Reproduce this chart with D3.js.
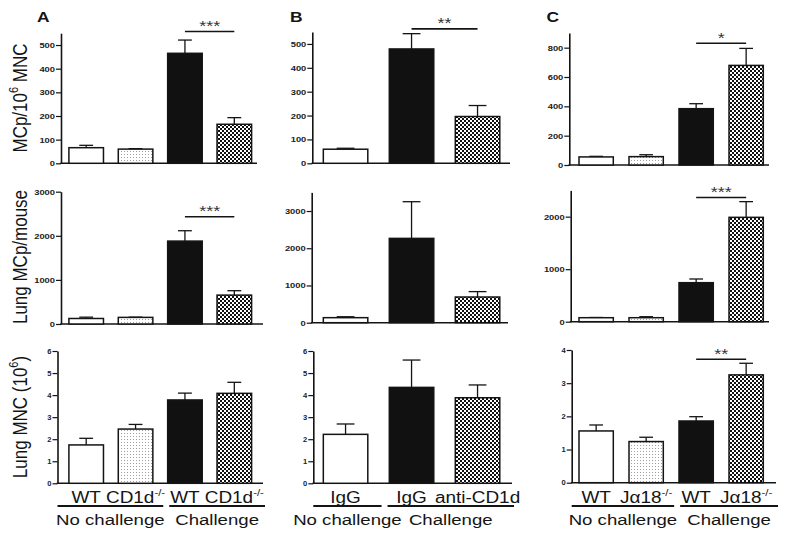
<!DOCTYPE html>
<html><head><meta charset="utf-8">
<script src="https://cdn.jsdelivr.net/npm/d3@7"></script>
<style>body{margin:0;background:#fff}svg{display:block}</style>
</head><body><svg id="c" width="785" height="536"></svg>
<script>
// ---------------- DATA ----------------
const categoriesA = ["WT no challenge", "CD1d-/- no challenge", "WT challenge", "CD1d-/- challenge"];
const categoriesB = ["IgG no challenge", "IgG challenge", "anti-CD1d challenge"];
const categoriesC = ["WT no challenge", "Ja18-/- no challenge", "WT challenge", "Ja18-/- challenge"];

const fillsA = ["open", "dots", "solid", "checker"];
const fillsB = ["open", "solid", "checker"];
const fillsC = ["open", "dots", "solid", "checker"];

const groupOfA = [0, 0, 1, 1];
const groupOfB = [0, 1, 1];
const groupOfC = [0, 0, 1, 1];
const groupLabels = ["No challenge", "Challenge"];

const xLabelsA = [["WT", ""], ["CD1d", "-/-"], ["WT", ""], ["CD1d", "-/-"]];
const xLabelsB = [["IgG", ""], ["IgG", ""], ["anti-CD1d", ""]];
const xLabelsC = [["WT", ""], ["J\u03b118", "-/-"], ["WT", ""], ["J\u03b118", "-/-"]];

// MCp per 10^6 MNC
const meanA1 = [66, 60, 465, 165],   semA1 = [10, 2, 56, 28];
const meanB1 = [59, 479, 196],       semB1 = [4, 64, 46];
const meanC1 = [55, 57, 384, 679],   semC1 = [4, 13, 34, 116];
// Lung MCp per mouse
const meanA2 = [125, 150, 1880, 655], semA2 = [30, 5, 235, 100];
const meanB2 = [135, 2265, 690],      semB2 = [25, 985, 145];
const meanC2 = [76, 76, 743, 1987],   semC2 = [4, 19, 70, 299];
// Lung MNC (10^6)
const meanA3 = [1.74, 2.46, 3.78, 4.08], semA3 = [0.30, 0.21, 0.31, 0.50];
const meanB3 = [2.22, 4.35, 3.88],       semB3 = [0.47, 1.24, 0.58];
const meanC3 = [1.56, 1.24, 1.86, 3.25], semC3 = [0.18, 0.13, 0.13, 0.35];

// axis maxima and tick values
const yMaxA = [550, 3000, 6], yMaxB = [550, 3500, 6], yMaxC = [900, 2500, 4];
const ticksA1 = [0, 100, 200, 300, 400, 500];
const ticksB1 = [0, 100, 200, 300, 400, 500];
const ticksC1 = [0, 200, 400, 600, 800];
const ticksA2 = [0, 1000, 2000, 3000];
const ticksB2 = [0, 1000, 2000, 3000];
const ticksC2 = [0, 1000, 2000];
const ticksA3 = [0, 1, 2, 3, 4, 5, 6];
const ticksB3 = [0, 1, 2, 3, 4, 5, 6];
const ticksC3 = [0, 1, 2, 3, 4];

// significance brackets: [from bar, to bar, level (data units), stars]
const sigA1 = [2, 3, 557, "***"];
const sigA2 = [2, 3, 2433, "***"];
const sigB1 = [1, 2, 563, "**"];
const sigC1 = [2, 3, 830, "*"];
const sigC2 = [2, 3, 2365, "***"];
const sigC3 = [2, 3, 3.72, "**"];

const yTitles = [
  [["MCp/10", 0], ["6", 1], [" MNC", 0]],
  [["Lung MCp/mouse", 0]],
  [["Lung MNC (10", 0], ["6", 1], [")", 0]]
];

// ---------------- LAYOUT / STYLE ----------------
const SX = 1.2; // horizontal text stretch of the source image
const FONT = "'Liberation Sans', Arial, Helvetica, sans-serif";
const INK = "#141414";
const fillMap = {open: "#fff", dots: "url(#dots)", solid: "#111", checker: "url(#checker)"};

const panels = [
  {letter: "A", letterX: 37, cats: categoriesA, fills: fillsA, groups: groupOfA, xl: xLabelsA,
   band: [61.5, 259], pi: 0.3, po: 0.15,
   axisX: [61, 61, 57.5], xEnd: [257, 263, 263],
   yR: [[163.3, 33.2], [324, 191.7], [483.3, 351]], yMax: yMaxA,
   means: [meanA1, meanA2, meanA3], sems: [semA1, semA2, semA3],
   ticks: [ticksA1, ticksA2, ticksA3], sig: [sigA1, sigA2, null], titles: true},
  {letter: "B", letterX: 290, cats: categoriesB, fills: fillsB, groups: groupOfB, xl: xLabelsB,
   band: [312.3, 510.8], pi: 0.326, po: 0.167,
   axisX: [312.3, 311.7, 313.3], xEnd: [510, 508, 512],
   yR: [[163.3, 32], [322.7, 192.4], [483.3, 351]], yMax: yMaxB,
   means: [meanB1, meanB2, meanB3], sems: [semB1, semB2, semB3],
   ticks: [ticksB1, ticksB2, ticksB3], sig: [sigB1, null, null], titles: false},
  {letter: "C", letterX: 546.5, cats: categoriesC, fills: fillsC, groups: groupOfC, xl: xLabelsC,
   band: [570, 772.3], pi: 0.314, po: 0.18,
   axisX: [569.3, 570.7, 571.7], xEnd: [769, 769, 776],
   yR: [[165, 33], [321.7, 190.4], [482.7, 350]], yMax: yMaxC,
   means: [meanC1, meanC2, meanC3], sems: [semC1, semC2, semC3],
   ticks: [ticksC1, ticksC2, ticksC3], sig: [sigC1, sigC2, sigC3], titles: false}
];

const svg = d3.select("#c").style("font-family", FONT);
const defs = svg.append("defs");
const pd = defs.append("pattern").attr("id", "dots").attr("width", 3).attr("height", 3)
  .attr("patternUnits", "userSpaceOnUse");
pd.append("rect").attr("width", 3).attr("height", 3).attr("fill", "#fff");
pd.append("rect").attr("x", 1).attr("y", 1).attr("width", 1).attr("height", 1).attr("fill", "#a0a0a0");
const pc = defs.append("pattern").attr("id", "checker").attr("width", 4).attr("height", 4)
  .attr("patternUnits", "userSpaceOnUse");
pc.append("rect").attr("width", 4).attr("height", 4).attr("fill", "#fff");
pc.append("rect").attr("width", 2).attr("height", 2).attr("fill", "#111");
pc.append("rect").attr("x", 2).attr("y", 2).attr("width", 2).attr("height", 2).attr("fill", "#111");

function stext(parent, x, y, rot) {
  return parent.append("text")
    .attr("transform", `translate(${x},${y}) scale(${SX},1)` + (rot ? " rotate(-90)" : ""))
    .attr("fill", INK);
}
function addParts(t, parts, supSize, supDy) {
  parts.forEach(([s, sup]) => {
    if (!s) return;
    const ts = t.append("tspan").text(s);
    if (sup) ts.attr("font-size", supSize).attr("dy", -supDy);
    else if (t.attr("data-up") === "1") ts.attr("dy", supDy);
    t.attr("data-up", sup ? "1" : "0");
  });
}

const rowCenters = [98, 257, 417];

panels.forEach(p => {
  const x = d3.scaleBand().domain(p.cats).range(p.band).paddingInner(p.pi).paddingOuter(p.po);
  const bw = x.bandwidth();

  // panel letter
  stext(svg, p.letterX, 21.5).attr("font-size", 14.5).attr("font-weight", "bold").text(p.letter);

  for (let r = 0; r < 3; r++) {
    const y = d3.scaleLinear().domain([0, p.yMax[r]]).range(p.yR[r]);
    const g = svg.append("g");
    const ax = p.axisX[r];

    // y axis
    const axis = d3.axisLeft(y).tickValues(p.ticks[r]).tickSize(5).tickPadding(1)
      .tickSizeOuter(0).tickFormat(d3.format("d"));
    const ag = g.append("g").attr("transform", `translate(${ax},0)`).call(axis);
    ag.select(".domain").attr("stroke", INK).attr("stroke-width", 1.6);
    ag.selectAll(".tick line").attr("stroke", INK).attr("stroke-width", 1.2);
    ag.selectAll(".tick text")
      .attr("font-family", FONT).attr("font-weight", "bold")
      .attr("font-size", r === 2 ? 6.3 : 7.8).attr("fill", "#222")
      .attr("x", -6 / SX).attr("transform", `scale(${SX},1)`);

    // x axis line
    g.append("line").attr("x1", ax - 0.8).attr("x2", p.xEnd[r])
      .attr("y1", y(0)).attr("y2", y(0)).attr("stroke", INK).attr("stroke-width", 1.6);

    const data = p.cats.map((c, i) => ({c, m: p.means[r][i], s: p.sems[r][i], f: p.fills[i]}));

    // error bars
    const eg = g.selectAll(".err").data(data).enter().append("g");
    eg.append("line")
      .attr("x1", d => x(d.c) + bw / 2).attr("x2", d => x(d.c) + bw / 2)
      .attr("y1", d => y(d.m)).attr("y2", d => y(d.m + d.s))
      .attr("stroke", INK).attr("stroke-width", 1.3);
    eg.append("line")
      .attr("x1", d => x(d.c) + bw / 2 - bw * 0.2).attr("x2", d => x(d.c) + bw / 2 + bw * 0.2)
      .attr("y1", d => y(d.m + d.s)).attr("y2", d => y(d.m + d.s))
      .attr("stroke", INK).attr("stroke-width", 1.3);

    // bars
    g.selectAll(".bar").data(data).enter().append("rect")
      .attr("x", d => x(d.c)).attr("width", bw)
      .attr("y", d => y(d.m)).attr("height", d => y(0) - y(d.m))
      .attr("fill", d => fillMap[d.f]).attr("stroke", INK).attr("stroke-width", 1.5);

    // significance
    const s = p.sig[r];
    if (s) {
      const x1 = x(p.cats[s[0]]) + bw / 2, x2 = x(p.cats[s[1]]) + bw / 2, ys = y(s[2]);
      g.append("line").attr("x1", x1).attr("x2", x2).attr("y1", ys).attr("y2", ys)
        .attr("stroke", INK).attr("stroke-width", 1.6);
      stext(g, (x1 + x2) / 2, ys - 0.5).attr("text-anchor", "middle")
        .attr("font-size", 15).attr("fill", "#333").text(s[3]);
    }

    // y title
    if (p.titles) {
      const t = stext(svg, 26.5, rowCenters[r], true).attr("text-anchor", "middle").attr("font-size", 17);
      addParts(t, yTitles[r], 11, 7);
    }

    // x labels and groups on the bottom row
    if (r === 2) {
      p.cats.forEach((c, i) => {
        const t = stext(svg, x(c) + bw / 2, 502.5).attr("text-anchor", "middle").attr("font-size", 15.8);
        addParts(t, [[p.xl[i][0], 0], [p.xl[i][1], 1]], 9.5, 6.5);
      });
      const g1 = p.cats.filter((c, i) => p.groups[i] === 0);
      const g2 = p.cats.filter((c, i) => p.groups[i] === 1);
      const mid = (x(g1[g1.length - 1]) + bw + x(g2[0])) / 2;
      const lines = [[ax, mid + 3], [mid + 9, p.xEnd[r] + 2]];
      lines.forEach((l, k) => {
        svg.append("line").attr("x1", l[0]).attr("x2", l[1]).attr("y1", 506).attr("y2", 506)
          .attr("stroke", INK).attr("stroke-width", 1.8);
        stext(svg, (l[0] + l[1]) / 2, 524.5).attr("text-anchor", "middle").attr("font-size", 15.5)
          .text(groupLabels[k]);
      });
    }
  }
});
</script></body></html>
